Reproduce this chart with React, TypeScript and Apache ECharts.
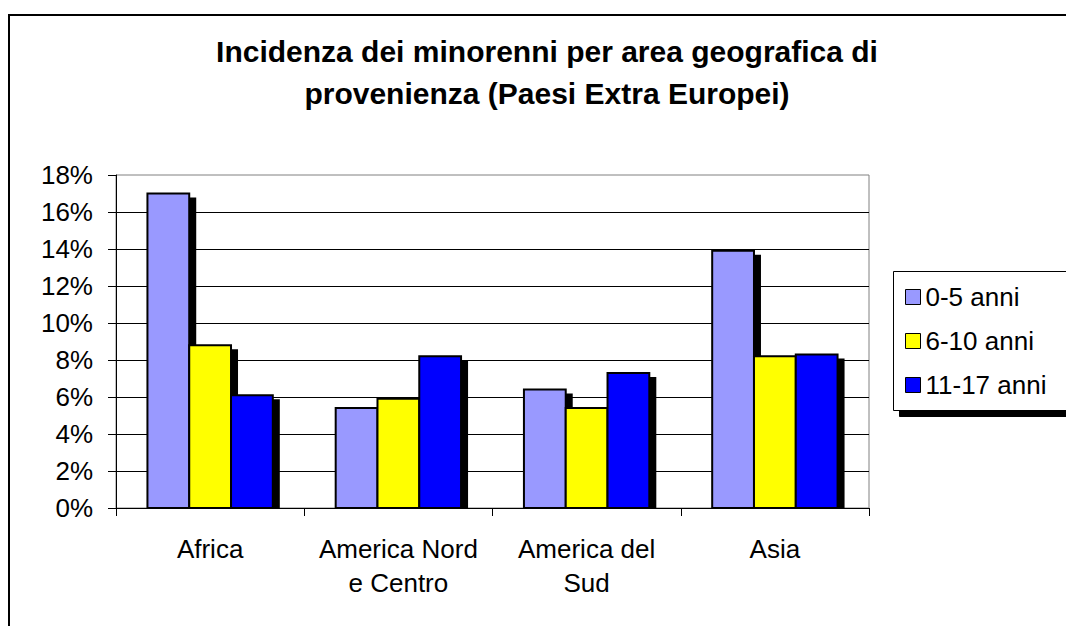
import React, { useEffect, useRef } from "react";
import * as echarts from "echarts";

const categories = ["Africa", "America Nord\ne Centro", "America del\nSud", "Asia"];
const seriesNames = ["0-5 anni", "6-10 anni", "11-17 anni"];
const age0to5 = [17.0, 5.4, 6.4, 13.9];
const age6to10 = [8.8, 5.9, 5.4, 8.2];
const age11to17 = [6.1, 8.2, 7.3, 8.3];
const seriesValues = [age0to5, age6to10, age11to17];
const seriesColors = ["#9999FF", "#FFFF00", "#0000FF"];
const titleText = "Incidenza dei minorenni per area geografica di\nprovenienza (Paesi Extra Europei)";

export default function App() {
  const ref = useRef<HTMLDivElement>(null);
  useEffect(() => {
    if (!ref.current) return;
    const chart = echarts.init(ref.current, undefined, { renderer: "svg" });
    const font = "Liberation Sans, Arial, sans-serif";
    const option: any = {
      animation: false,
      textStyle: { fontFamily: font },
      grid: {
        left: 116,
        top: 175,
        width: 753,
        height: 333,
        show: true,
        borderColor: "#808080",
        borderWidth: 1,
        backgroundColor: "transparent",
      },
      xAxis: {
        type: "category",
        data: categories,
        axisLine: { show: true, lineStyle: { color: "#000", width: 1 } },
        axisTick: { show: true, interval: 0, length: 8, lineStyle: { color: "#000" } },
        axisLabel: { interval: 0, fontSize: 26, color: "#000", lineHeight: 34, margin: 24, fontFamily: font },
        splitLine: { show: false },
      },
      yAxis: {
        type: "value",
        min: 0,
        max: 18,
        interval: 2,
        axisLine: { show: true, lineStyle: { color: "#000", width: 1 } },
        axisTick: { show: true, length: 8, lineStyle: { color: "#000" } },
        axisLabel: { formatter: "{value}%", fontSize: 26, color: "#000", margin: 23, fontFamily: font },
        splitLine: { show: true, showMaxLine: false, lineStyle: { color: "#000", width: 1 } },
      },
      legend: {
        orient: "vertical",
        left: 893,
        top: 271,
        padding: [11, 10, 10, 12],
        itemWidth: 15,
        itemHeight: 15,
        itemGap: 14,
        icon: "rect",
        backgroundColor: "transparent",
        borderWidth: 0,
        z: 10,
        itemStyle: { borderColor: "#000", borderWidth: 1 },
        textStyle: { fontSize: 26, color: "#000", lineHeight: 30, fontFamily: font },
        data: seriesNames,
      },
      graphic: [
        {
          type: "rect",
          silent: true,
          z: -10,
          shape: { x: 9, y: 15, width: 1300, height: 900 },
          style: { fill: "none", stroke: "#000", lineWidth: 2 },
        },
        {
          type: "rect",
          silent: true,
          z: 5,
          shape: { x: 893.5, y: 271.5, width: 200, height: 139 },
          style: {
            fill: "#fff",
            stroke: "#000",
            lineWidth: 1,
            shadowColor: "#000",
            shadowOffsetX: 6,
            shadowOffsetY: 6,
            shadowBlur: 0,
          },
        },
        {
          type: "text",
          x: 547,
          y: 30,
          silent: true,
          style: {
            text: titleText,
            font: "bold 30px " + font,
            fill: "#000",
            textAlign: "center",
            textVerticalAlign: "top",
            lineHeight: 42,
          },
        },
      ],
      series: seriesNames.map((name, i) => ({
        type: "custom",
        name,
        data: seriesValues[i].map((v, c) => [c, v]),
        itemStyle: { color: seriesColors[i], borderColor: "#000", borderWidth: 1 },
        encode: { x: 0, y: 1 },
        renderItem: (params: any, api: any) => {
          const c = api.value(0);
          const v = api.value(1);
          const base = api.coord([c, 0]);
          const top = api.coord([c, v]);
          const band = api.size([1, 0])[0];
          const w = band * 0.222;
          const x = base[0] - 1.5 * w + i * w;
          const h = base[1] - top[1];
          return {
            type: "group",
            children: [
              {
                type: "rect",
                shape: { x: x + 7, y: top[1] + 4, width: w, height: Math.max(0, h - 4) },
                style: { fill: "#000" },
              },
              {
                type: "rect",
                shape: { x, y: top[1], width: w, height: h },
                style: { fill: seriesColors[i], stroke: "#000", lineWidth: 2 },
              },
            ],
          };
        },
      })),
    };
    chart.setOption(option);
    return () => chart.dispose();
  }, []);
  return (
    <div
      ref={ref}
      style={{ position: "absolute", left: 0, top: 0, width: 1066, height: 626, background: "#fff" }}
    />
  );
}
